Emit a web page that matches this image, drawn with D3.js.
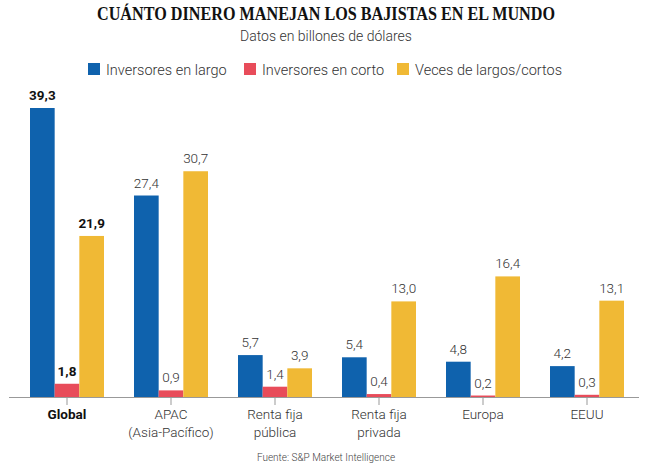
<!DOCTYPE html>
<meta charset="utf-8">
<script src="https://d3js.org/d3.v7.min.js"></script>
<style>
  body { margin: 0; background: #fff; }
  text { font-family: Roboto, sans-serif; }
</style>
<div id="chart"></div>
<script>

// data
var categories = ["Global", "APAC|(Asia-Pacífico)", "Renta fija|pública", "Renta fija|privada", "Europa", "EEUU"];
var seriesNames = ["Inversores en largo", "Inversores en corto", "Veces de largos/cortos"];
var largo = [39.3, 27.4, 5.7, 5.4, 4.8, 4.2];
var corto = [1.8, 0.9, 1.4, 0.4, 0.2, 0.3];
var veces = [21.9, 30.7, 3.9, 13.0, 16.4, 13.1];
var colors = ["#0f62ad", "#e84c5a", "#f0b935"];

var W = 646, H = 470;
var baseY = 397;

var svg = d3.select("#chart").append("svg")
    .attr("width", W)
    .attr("height", H);

// title and subtitle
svg.append("text")
  .attr("x", 326).attr("y", 20)
  .attr("text-anchor", "middle")
  .attr("textLength", 458)
  .attr("lengthAdjust", "spacingAndGlyphs")
  .style("font-family", "'Liberation Serif', serif")
  .style("font-weight", "bold")
  .style("font-size", "19px")
  .style("fill", "#111")
  .text("CUÁNTO DINERO MANEJAN LOS BAJISTAS EN EL MUNDO");

svg.append("text")
  .attr("x", 326).attr("y", 40.5)
  .attr("text-anchor", "middle")
  .style("font-size", "14px")
  .style("font-weight", 300)
  .style("fill", "#333")
  .text("Datos en billones de dólares");

// legend
var legendX = [88, 244, 397];
var legend = svg.selectAll(".legend")
  .data(seriesNames)
  .enter().append("g")
    .attr("class", "legend")
    .attr("transform", function(d, i) { return "translate(" + legendX[i] + ",63)"; });
legend.append("rect")
  .attr("width", 12).attr("height", 12)
  .attr("fill", function(d, i) { return colors[i]; });
legend.append("text")
  .attr("x", 18).attr("y", 11.5)
  .style("font-size", "14.5px")
  .style("font-weight", 300)
  .style("fill", "#333")
  .text(function(d) { return d; });

// scales: groups 74px wide, 30px apart, from x=30 to x=624
var x0 = d3.scaleBand()
  .domain(categories)
  .range([30, 624])
  .paddingInner(30 / 104)
  .paddingOuter(0);

var x1 = d3.scaleBand()
  .domain([0, 1, 2])
  .range([0, x0.bandwidth()]);

var y = d3.scaleLinear()
  .domain([0, 39.3])
  .range([baseY, 108]);

var rows = categories.map(function(c, i) {
  return { cat: c, idx: i, vals: [largo[i], corto[i], veces[i]] };
});

var groups = svg.selectAll(".group")
  .data(rows)
  .enter().append("g")
    .attr("class", "group")
    .attr("transform", function(d) { return "translate(" + x0(d.cat) + ",0)"; });

function cells(d) {
  return d.vals.map(function(v, k) { return { v: v, k: k, g: d.idx }; });
}

groups.selectAll("rect")
  .data(cells)
  .enter().append("rect")
    .attr("x", function(d) { return x1(d.k); })
    .attr("width", x1.bandwidth())
    .attr("y", function(d) { return y(d.v); })
    .attr("height", function(d) { return baseY - y(d.v); })
    .attr("fill", function(d) { return colors[d.k]; });

groups.selectAll(".val")
  .data(cells)
  .enter().append("text")
    .attr("class", "val")
    .attr("x", function(d) { return x1(d.k) + x1.bandwidth() / 2; })
    .attr("y", function(d) { return y(d.v) - 8; })
    .attr("text-anchor", "middle")
    .style("font-size", "13.5px")
    .style("font-weight", function(d) { return d.g === 0 ? 700 : 300; })
    .style("fill", function(d) { return d.g === 0 ? "#111" : "#333"; })
    .text(function(d) { return d.v.toFixed(1).replace(".", ","); });

// axis line and ticks
svg.append("line")
  .attr("x1", 9).attr("x2", 639)
  .attr("y1", baseY + 0.5).attr("y2", baseY + 0.5)
  .attr("stroke", "#999").attr("stroke-width", 1);

groups.append("line")
  .attr("x1", x0.bandwidth() / 2).attr("x2", x0.bandwidth() / 2)
  .attr("y1", baseY + 1).attr("y2", baseY + 8)
  .attr("stroke", "#999");

var labels = groups.append("text")
  .attr("text-anchor", "middle")
  .style("font-size", "13.5px")
  .style("font-weight", function(d) { return d.idx === 0 ? 700 : 300; })
  .style("fill", function(d) { return d.idx === 0 ? "#111" : "#333"; });
labels.selectAll("tspan")
  .data(function(d) { return d.cat.split("|"); })
  .enter().append("tspan")
    .attr("x", x0.bandwidth() / 2)
    .attr("y", function(d, i) { return 419 + i * 18; })
    .text(function(d) { return d; });

// source
svg.append("text")
  .attr("x", 326).attr("y", 461)
  .attr("text-anchor", "middle")
  .style("font-size", "10px")
  .style("font-weight", 300)
  .style("fill", "#444")
  .text("Fuente: S&P Market Intelligence");

</script>
